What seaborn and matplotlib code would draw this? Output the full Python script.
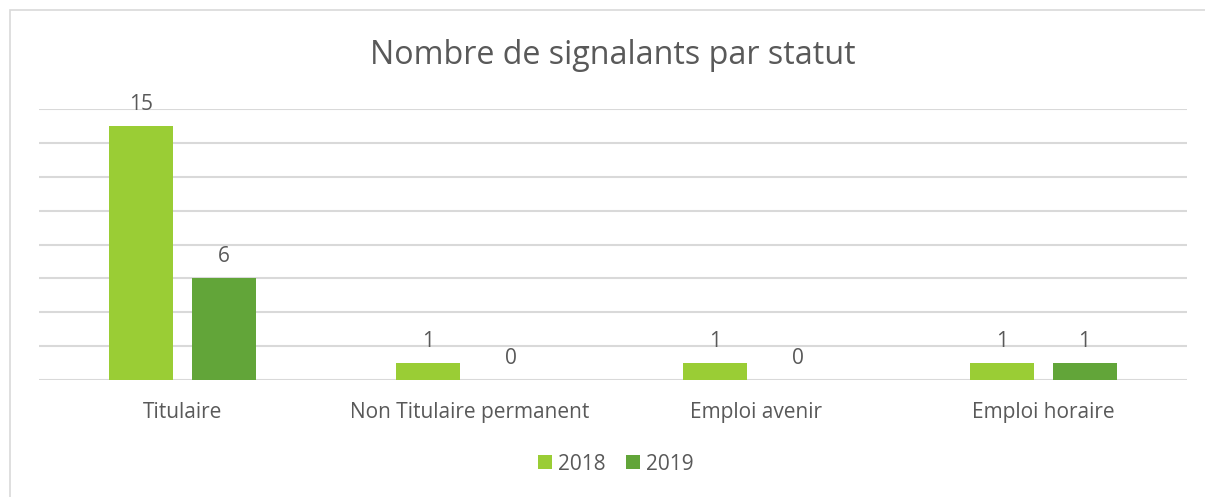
import matplotlib
matplotlib.use("Agg")
import matplotlib.pyplot as plt
import seaborn as sns
import pandas as pd
from matplotlib.patches import Rectangle

categories = ["Titulaire", "Non Titulaire permanent", "Emploi avenir", "Emploi horaire"]
years = ["2018", "2019"]
values_2018 = [15, 1, 1, 1]
values_2019 = [6, 0, 0, 1]

df = pd.DataFrame({
    "statut": categories * 2,
    "annee": [years[0]] * 4 + [years[1]] * 4,
    "valeur": values_2018 + values_2019,
})

sns.set_theme(style="white")
plt.rcParams['font.family'] = ['Open Sans', 'DejaVu Sans']
text_color = "#595959"
grid_color = "#D9D9D9"
palette = {"2018": "#9ACD35", "2019": "#62A539"}

fig = plt.figure(figsize=(12.05, 4.97), dpi=100)
fig.patches.append(Rectangle((10/1205, -0.1), 1.2, 1 - 10/497 + 0.1, transform=fig.transFigure,
                             fill=False, edgecolor="#D9D9D9", linewidth=1.2))
ax = fig.add_axes([39/1205, 1 - 380/497, (1187 - 39)/1205, (380 - 109)/497])

sns.barplot(data=df, x="statut", y="valeur", hue="annee", palette=palette,
            width=0.572, gap=0.22, ax=ax, legend=True, saturation=1, linewidth=0)

ax.set_ylim(0, 16)
ax.set_yticks(range(0, 17, 2))
ax.yaxis.grid(True, color=grid_color, linewidth=1.5)
ax.set_axisbelow(True)
ax.tick_params(axis="y", left=False, labelleft=False)
ax.tick_params(axis="x", bottom=False, labelsize=15, colors=text_color, pad=10)
for s in ax.spines.values():
    s.set_visible(False)
ax.set_xlabel("")
ax.set_ylabel("")

for cont in ax.containers:
    ax.bar_label(cont, labels=[f"{v:g}" for v in cont.datavalues], padding=8,
                 fontsize=15, color=text_color)

fig.text(613/1205, 1 - 55/497, "Nombre de signalants par statut", ha="center", va="center",
         fontsize=23.2, color=text_color)

leg = ax.legend(loc="center", bbox_to_anchor=(616/1205, 1 - 464/497), bbox_transform=fig.transFigure,
                ncol=2, frameon=False, fontsize=15, handlelength=0.65, handleheight=0.65,
                handletextpad=0.3, columnspacing=1.0)
for t in leg.get_texts():
    t.set_color(text_color)

fig.savefig("out.png", dpi=100)
